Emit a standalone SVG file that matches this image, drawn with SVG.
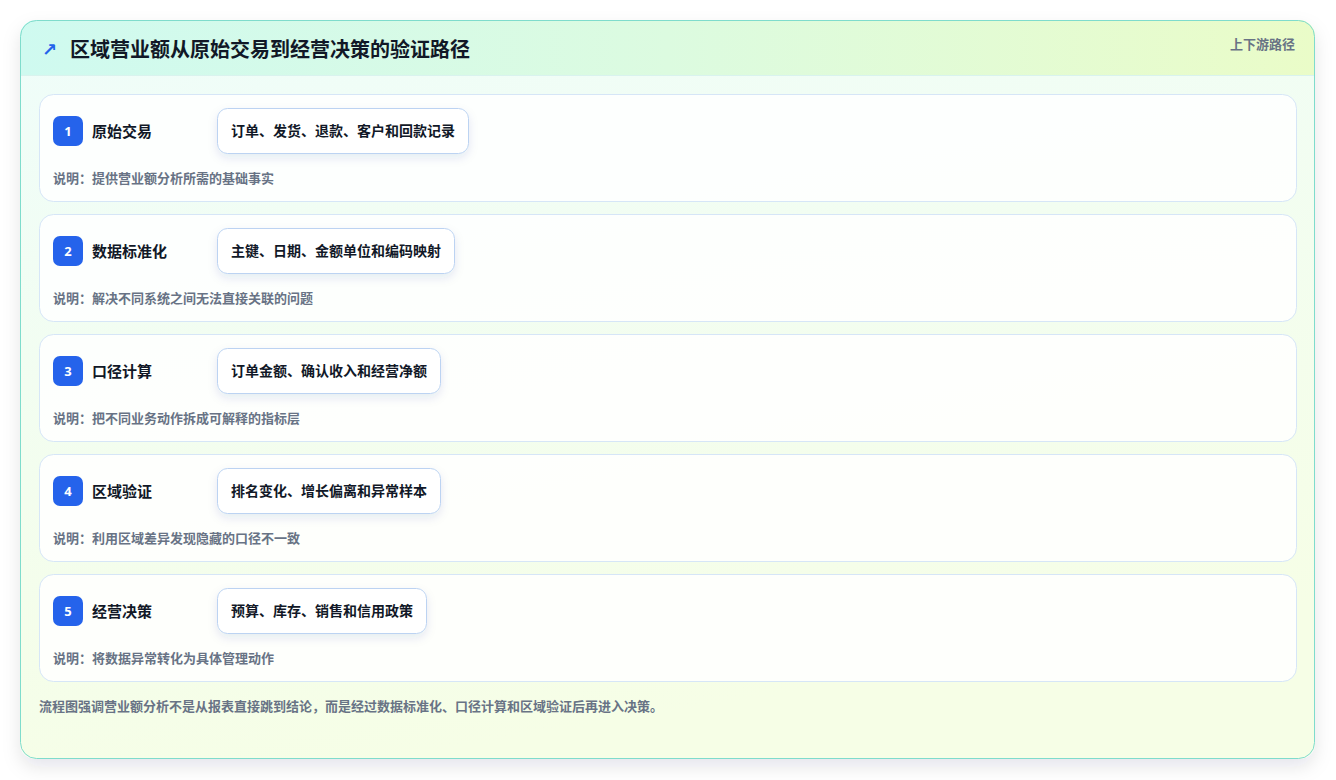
<svg xmlns="http://www.w3.org/2000/svg" width="1336" height="780" viewBox="0 0 1336 780">
<defs>
<linearGradient id="bodyGrad" x1="0" y1="0" x2="0.3" y2="1">
<stop offset="0" stop-color="#effdfa"/>
<stop offset="1" stop-color="#f6fee6"/>
</linearGradient>
<linearGradient id="headGrad" x1="0" y1="0" x2="1" y2="0">
<stop offset="0" stop-color="#cffaf0"/>
<stop offset="0.5" stop-color="#dcfbe0"/>
<stop offset="1" stop-color="#eafcc8"/>
</linearGradient>
<clipPath id="cardClip"><rect x="20" y="20" width="1295" height="739" rx="16"/></clipPath>
<filter id="cardShadow" x="-5%" y="-5%" width="110%" height="115%">
<feDropShadow dx="0" dy="8" stdDeviation="9" flood-color="#0f172a" flood-opacity="0.10"/>
</filter>
<filter id="pillShadow" x="-20%" y="-40%" width="140%" height="200%">
<feDropShadow dx="0" dy="4" stdDeviation="5" flood-color="#1e3a8a" flood-opacity="0.10"/>
</filter>
</defs>
<style>
text{font-family:"Noto Sans CJK SC","Noto Sans",sans-serif;font-weight:700}
.row{fill:#ffffff;fill-opacity:0.85;stroke:#d6e6f7;stroke-width:1}
.badge{fill:#2563eb}
.num{fill:#ffffff;font-size:13px;font-family:"Noto Sans","DejaVu Sans",sans-serif;text-anchor:middle}
.label{fill:#111827;font-size:15px}
.pill{fill:#ffffff;stroke:#bcd3f2;stroke-width:1}
.ptext{fill:#111827;font-size:14px}
.desc{fill:#687385;font-size:13px}
</style>
<rect width="1336" height="780" fill="#ffffff"/>
<g id="card">
<rect x="20" y="20" width="1295" height="739" rx="16" fill="url(#bodyGrad)" filter="url(#cardShadow)"/>
<rect x="20" y="20" width="1295" height="56" fill="url(#headGrad)" clip-path="url(#cardClip)"/>
<line x1="20" y1="75.5" x2="1315" y2="75.5" stroke="#d9f3ee" stroke-width="1"/>
<rect x="20.5" y="20.5" width="1294" height="738" rx="16" fill="none" stroke="#7fdccc" stroke-width="1"/>
</g>
<g id="header">
<text x="42" y="56" font-size="18" fill="#2563eb" style="font-family:'DejaVu Sans',sans-serif;font-weight:700">↗</text>
<text x="70" y="57" font-size="20" fill="#111827">区域营业额从原始交易到经营决策的验证路径</text>
<text x="1295" y="49" font-size="13" fill="#687385" text-anchor="end">上下游路径</text>
</g>
<g id="connectors"></g>
<g id="step1">
<rect class="row" x="39.5" y="94.5" width="1257" height="107" rx="14"/>
<rect class="badge" x="53" y="116" width="30" height="30" rx="7"/>
<text class="num" x="68" y="136">1</text>
<text class="label" x="92" y="137">原始交易</text>
<rect class="pill" x="217.5" y="108.5" width="251" height="45" rx="10" filter="url(#pillShadow)"/>
<text class="ptext" x="231" y="136">订单、发货、退款、客户和回款记录</text>
<text class="desc" x="53" y="183">说明：提供营业额分析所需的基础事实</text>
</g>
<g id="step2">
<rect class="row" x="39.5" y="214.5" width="1257" height="107" rx="14"/>
<rect class="badge" x="53" y="236" width="30" height="30" rx="7"/>
<text class="num" x="68" y="256">2</text>
<text class="label" x="92" y="257">数据标准化</text>
<rect class="pill" x="217.5" y="228.5" width="237" height="45" rx="10" filter="url(#pillShadow)"/>
<text class="ptext" x="231" y="256">主键、日期、金额单位和编码映射</text>
<text class="desc" x="53" y="303">说明：解决不同系统之间无法直接关联的问题</text>
</g>
<g id="step3">
<rect class="row" x="39.5" y="334.5" width="1257" height="107" rx="14"/>
<rect class="badge" x="53" y="356" width="30" height="30" rx="7"/>
<text class="num" x="68" y="376">3</text>
<text class="label" x="92" y="377">口径计算</text>
<rect class="pill" x="217.5" y="348.5" width="223" height="45" rx="10" filter="url(#pillShadow)"/>
<text class="ptext" x="231" y="376">订单金额、确认收入和经营净额</text>
<text class="desc" x="53" y="423">说明：把不同业务动作拆成可解释的指标层</text>
</g>
<g id="step4">
<rect class="row" x="39.5" y="454.5" width="1257" height="107" rx="14"/>
<rect class="badge" x="53" y="476" width="30" height="30" rx="7"/>
<text class="num" x="68" y="496">4</text>
<text class="label" x="92" y="497">区域验证</text>
<rect class="pill" x="217.5" y="468.5" width="223" height="45" rx="10" filter="url(#pillShadow)"/>
<text class="ptext" x="231" y="496">排名变化、增长偏离和异常样本</text>
<text class="desc" x="53" y="543">说明：利用区域差异发现隐藏的口径不一致</text>
</g>
<g id="step5">
<rect class="row" x="39.5" y="574.5" width="1257" height="107" rx="14"/>
<rect class="badge" x="53" y="596" width="30" height="30" rx="7"/>
<text class="num" x="68" y="616">5</text>
<text class="label" x="92" y="617">经营决策</text>
<rect class="pill" x="217.5" y="588.5" width="209" height="45" rx="10" filter="url(#pillShadow)"/>
<text class="ptext" x="231" y="616">预算、库存、销售和信用政策</text>
<text class="desc" x="53" y="663">说明：将数据异常转化为具体管理动作</text>
</g>
<g id="footer">
<text class="desc" x="39" y="711">流程图强调营业额分析不是从报表直接跳到结论，而是经过数据标准化、口径计算和区域验证后再进入决策。</text>
</g>
</svg>
